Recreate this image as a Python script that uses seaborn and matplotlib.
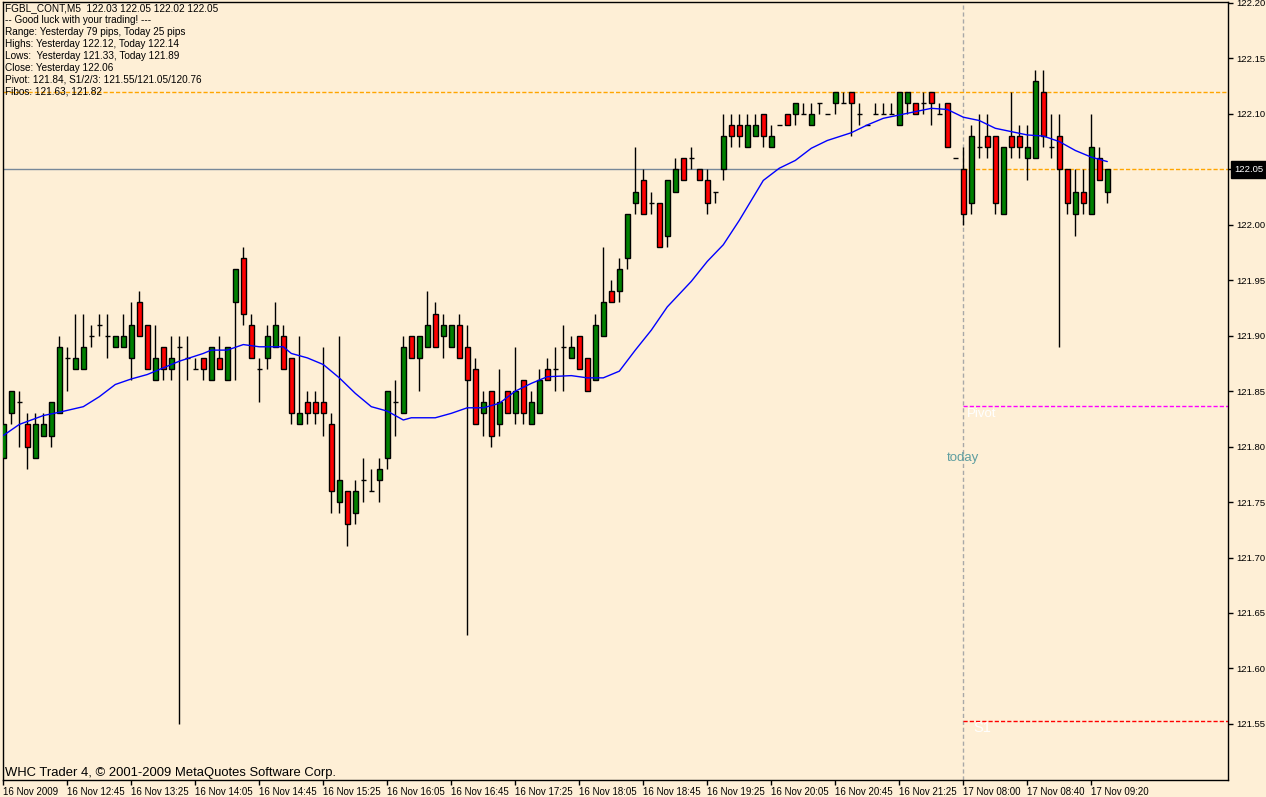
import numpy as np
import pandas as pd
import matplotlib
matplotlib.use("Agg")
import matplotlib.pyplot as plt
import matplotlib.transforms as mtrans
import seaborn as sns

# ==================================================
# data (FGBL_CONT, M5)
# ==================================================
opens = [121.79, 121.83, 121.84, 121.82, 121.79, 121.81, 121.81, 121.83, 121.88, 121.87,
         121.87, 121.90, 121.91, 121.90, 121.89, 121.89, 121.88, 121.93, 121.91, 121.86,
         121.89, 121.87, 121.89, 121.88, 121.87, 121.88, 121.86, 121.88, 121.86, 121.93,
         121.97, 121.91, 121.87, 121.88, 121.89, 121.90, 121.88, 121.82, 121.84, 121.84,
         121.84, 121.82, 121.75, 121.76, 121.74, 121.77, 121.76, 121.77, 121.79, 121.84,
         121.83, 121.90, 121.88, 121.89, 121.92, 121.90, 121.89, 121.91, 121.89, 121.87,
         121.83, 121.85, 121.82, 121.85, 121.83, 121.86, 121.82, 121.83, 121.87, 121.87,
         121.89, 121.88, 121.90, 121.88, 121.86, 121.90, 121.94, 121.94, 121.97, 122.02,
         122.04, 122.02, 122.02, 121.99, 122.03, 122.06, 122.06, 122.05, 122.04, 122.03,
         122.05, 122.09, 122.09, 122.07, 122.08, 122.10, 122.07, 122.09, 122.10, 122.10,
         122.10, 122.09, 122.11, 122.10, 122.11, 122.11, 122.12, 122.10, 122.09, 122.10,
         122.10, 122.10, 122.09, 122.11, 122.11, 122.11, 122.12, 122.10, 122.11, 122.06,
         122.05, 122.02, 122.07, 122.08, 122.08, 122.01, 122.08, 122.08, 122.06, 122.06,
         122.12, 122.07, 122.08, 122.05, 122.01, 122.03, 122.01, 122.06, 122.03]
highs = [121.82, 121.85, 121.85, 121.83, 121.83, 121.83, 121.84, 121.90, 121.89, 121.92,
         121.92, 121.91, 121.92, 121.92, 121.90, 121.92, 121.93, 121.94, 121.91, 121.91,
         121.89, 121.90, 121.90, 121.90, 121.88, 121.88, 121.89, 121.90, 121.89, 121.96,
         121.98, 121.92, 121.88, 121.91, 121.93, 121.91, 121.88, 121.90, 121.85, 121.85,
         121.89, 121.83, 121.90, 121.76, 121.77, 121.79, 121.78, 121.79, 121.85, 121.86,
         121.90, 121.90, 121.90, 121.94, 121.93, 121.92, 121.91, 121.92, 121.91, 121.88,
         121.85, 121.85, 121.87, 121.85, 121.89, 121.86, 121.85, 121.87, 121.88, 121.89,
         121.91, 121.90, 121.90, 121.88, 121.92, 121.98, 121.95, 121.97, 122.01, 122.07,
         122.05, 122.03, 122.02, 122.04, 122.06, 122.06, 122.07, 122.05, 122.05, 122.03,
         122.10, 122.10, 122.10, 122.10, 122.10, 122.10, 122.09, 122.09, 122.10, 122.11,
         122.11, 122.11, 122.11, 122.10, 122.12, 122.12, 122.12, 122.11, 122.09, 122.11,
         122.11, 122.11, 122.12, 122.12, 122.11, 122.12, 122.12, 122.11, 122.11, 122.06,
         122.07, 122.09, 122.10, 122.10, 122.08, 122.07, 122.12, 122.09, 122.09, 122.14,
         122.14, 122.10, 122.10, 122.05, 122.05, 122.05, 122.10, 122.07, 122.05]
lows = [121.79, 121.82, 121.80, 121.78, 121.79, 121.81, 121.80, 121.83, 121.85, 121.87,
        121.87, 121.89, 121.90, 121.88, 121.89, 121.89, 121.86, 121.90, 121.87, 121.86,
        121.86, 121.86, 121.55, 121.86, 121.87, 121.86, 121.86, 121.87, 121.86, 121.86,
        121.91, 121.88, 121.84, 121.87, 121.89, 121.87, 121.82, 121.82, 121.82, 121.82,
        121.81, 121.74, 121.74, 121.71, 121.73, 121.75, 121.76, 121.75, 121.78, 121.81,
        121.83, 121.88, 121.85, 121.89, 121.89, 121.88, 121.89, 121.88, 121.63, 121.82,
        121.81, 121.80, 121.81, 121.83, 121.82, 121.82, 121.82, 121.83, 121.86, 121.85,
        121.85, 121.88, 121.87, 121.85, 121.86, 121.90, 121.93, 121.93, 121.96, 122.01,
        122.01, 122.01, 121.98, 121.98, 122.03, 122.04, 122.05, 122.04, 122.01, 122.02,
        122.04, 122.07, 122.07, 122.07, 122.08, 122.07, 122.07, 122.09, 122.09, 122.09,
        122.10, 122.09, 122.10, 122.10, 122.10, 122.11, 122.08, 122.09, 122.09, 122.10,
        122.10, 122.10, 122.09, 122.10, 122.10, 122.10, 122.09, 122.10, 122.07, 122.06,
        122.00, 122.01, 122.06, 122.06, 122.01, 122.01, 122.06, 122.06, 122.04, 122.06,
        122.07, 122.06, 121.89, 122.01, 121.99, 122.01, 122.01, 122.04, 122.02]
closes = [121.82, 121.85, 121.84, 121.80, 121.82, 121.82, 121.84, 121.89, 121.88, 121.88,
          121.89, 121.90, 121.91, 121.90, 121.90, 121.90, 121.91, 121.90, 121.87, 121.88,
          121.87, 121.88, 121.89, 121.88, 121.87, 121.87, 121.89, 121.87, 121.89, 121.96,
          121.92, 121.88, 121.87, 121.90, 121.91, 121.87, 121.83, 121.83, 121.83, 121.83,
          121.83, 121.76, 121.77, 121.73, 121.76, 121.77, 121.76, 121.78, 121.85, 121.84,
          121.89, 121.88, 121.90, 121.91, 121.89, 121.91, 121.91, 121.88, 121.86, 121.82,
          121.84, 121.81, 121.84, 121.83, 121.85, 121.83, 121.84, 121.86, 121.86, 121.87,
          121.89, 121.89, 121.87, 121.85, 121.91, 121.93, 121.93, 121.96, 122.01, 122.03,
          122.01, 122.02, 121.98, 122.04, 122.05, 122.04, 122.06, 122.04, 122.02, 122.03,
          122.08, 122.08, 122.08, 122.09, 122.09, 122.08, 122.08, 122.09, 122.09, 122.11,
          122.10, 122.10, 122.11, 122.10, 122.12, 122.11, 122.11, 122.10, 122.09, 122.10,
          122.10, 122.10, 122.12, 122.12, 122.10, 122.11, 122.11, 122.10, 122.07, 122.06,
          122.01, 122.08, 122.07, 122.07, 122.02, 122.07, 122.07, 122.07, 122.07, 122.13,
          122.08, 122.07, 122.05, 122.02, 122.03, 122.02, 122.07, 122.04, 122.05]

# moving average, read at sample bars
ma_idx = [0, 2, 5, 7, 10, 12, 14, 16, 18, 20, 22, 25, 26, 28, 30, 32, 35, 36, 38, 40,
          42, 44, 46, 48, 50, 51, 54, 56, 58, 60, 62, 64, 66, 68, 71, 73, 75, 77, 79, 81,
          83, 86, 88, 90, 92, 95, 97, 99, 101, 103, 106, 108, 110, 112, 114, 116, 118, 120,
          122, 124, 126, 128, 130, 132, 134, 136, 138]
ma_vals = [121.810, 121.820, 121.828, 121.831, 121.836, 121.845, 121.856, 121.861, 121.865,
           121.871, 121.877, 121.884, 121.887, 121.887, 121.892, 121.890, 121.890, 121.884,
           121.880, 121.874, 121.862, 121.848, 121.836, 121.832, 121.824, 121.826, 121.826,
           121.830, 121.835, 121.835, 121.839, 121.850, 121.857, 121.863, 121.864, 121.862,
           121.862, 121.868, 121.887, 121.905, 121.926, 121.949, 121.967, 121.982, 122.004,
           122.040, 122.051, 122.058, 122.069, 122.076, 122.083, 122.090, 122.096, 122.099,
           122.102, 122.105, 122.104, 122.097, 122.094, 122.087, 122.084, 122.081, 122.080,
           122.075, 122.067, 122.061, 122.057]

tick_bars = list(range(0, 137, 8))
tick_labels = ["16 Nov 2009", "16 Nov 12:45", "16 Nov 13:25", "16 Nov 14:05", "16 Nov 14:45",
               "16 Nov 15:25", "16 Nov 16:05", "16 Nov 16:45", "16 Nov 17:25", "16 Nov 18:05",
               "16 Nov 18:45", "16 Nov 19:25", "16 Nov 20:05", "16 Nov 20:45", "16 Nov 21:25",
               "17 Nov 08:00", "17 Nov 08:40", "17 Nov 09:20"]
price_ticks = [121.55, 121.60, 121.65, 121.70, 121.75, 121.80, 121.85, 121.90, 121.95,
               122.00, 122.05, 122.10, 122.15, 122.20]

info_lines = ["FGBL_CONT,M5  122.03 122.05 122.02 122.05",
              "-- Good luck with your trading! ---",
              "Range: Yesterday 79 pips, Today 25 pips",
              "Highs: Yesterday 122.12, Today 122.14",
              "Lows:  Yesterday 121.33, Today 121.89",
              "Close: Yesterday 122.06",
              "Pivot: 121.84, S1/2/3: 121.55/121.05/120.76",
              "Fibos: 121.63, 121.82"]

today_bar = 120
last_price = 122.05
yest_high = 122.12
pivot = 121.837
s1 = 121.553

df = pd.DataFrame({"open": opens, "high": highs, "low": lows, "close": closes})
df["bar"] = np.arange(len(df))

# ==================================================
# figure
# ==================================================
BG = "#FEEFD6"
W, H = 1266, 797
sns.set_theme(style="ticks", rc={"axes.facecolor": BG, "figure.facecolor": BG})
plt.rcParams["font.family"] = ["Liberation Sans", "DejaVu Sans"]

fig = plt.figure(figsize=(W / 100, H / 100), dpi=100)
ax_l, ax_r, ax_t, ax_b = 2.5, 1228.3, 2.3, 780.0
ax = fig.add_axes([ax_l / W, 1 - ax_b / H, (ax_r - ax_l) / W, (ax_b - ax_t) / H])
ax.set_facecolor(BG)

xmin, xmax = -0.1, 153.125
ax.set_xlim(xmin, xmax)
ax.set_ylim(121.4994, 122.2006)

# candles
bw = 0.62
up = df[df.close > df.open]
dn = df[df.close < df.open]
dj = df[df.close == df.open]
ax.vlines(df.bar, df.low, df.high, color="black", lw=1.0, zorder=3)
ax.bar(up.bar, up.close - up.open, bottom=up.open, width=bw, color="#008000",
       edgecolor="black", lw=1.0, zorder=4)
ax.bar(dn.bar, dn.open - dn.close, bottom=dn.close, width=bw, color="#FF0000",
       edgecolor="black", lw=1.0, zorder=4)
ax.hlines(dj.open, dj.bar - bw / 2, dj.bar + bw / 2, color="black", lw=1.0, zorder=4)

# moving average
sns.lineplot(x=ma_idx, y=ma_vals, color="#0000FF", lw=1.0, ax=ax, zorder=5)

# level lines
dash = (0, (3, 1.5))
ax.hlines(yest_high, xmin, xmax, color="#FFA500", lw=1.0, linestyles=dash, zorder=2)
ax.hlines(last_price, xmin, today_bar, color="#778899", lw=1.0, zorder=2)
ax.hlines(last_price, today_bar, xmax, color="#FFA500", lw=1.0, linestyles=dash, zorder=2)
ax.hlines(pivot, today_bar, xmax, color="#FF00FF", lw=1.0, linestyles=dash, zorder=2)
ax.hlines(s1, today_bar, xmax, color="#FF0000", lw=1.0, linestyles=dash, zorder=2)
ax.axvline(today_bar, color="#A8A8A8", lw=1.0, ls=(0, (3, 2)), zorder=1)

ax.text(today_bar, 121.79, "today", color="#5F9EA0", fontsize=9.5, ha="center", va="center")
ax.text(today_bar + 0.5, pivot - 0.008, "Pivot", color="white", fontsize=9.5, ha="left", va="center")
ax.text(today_bar + 1.2, s1 - 0.007, "S1", color="white", fontsize=10.5, ha="left", va="center")

# axes styling
for s in ax.spines.values():
    s.set_color("black")
    s.set_linewidth(1.0)
ax.yaxis.tick_right()
ax.set_yticks(price_ticks)
ax.set_yticklabels([f"{p:.2f}" for p in price_ticks])
ax.set_xticks(tick_bars)
ax.set_xticklabels(tick_labels, ha="left")
ax.tick_params(axis="both", direction="out", length=3.5, width=1.0, color="black",
               labelcolor="black", pad=1.2)
ax.tick_params(axis="x", labelsize=7.0)
ax.tick_params(axis="y", labelsize=6.8, pad=2.5)
ax.set_xlabel("")
ax.set_ylabel("")
ax.grid(False)

# current price label
blend = mtrans.blended_transform_factory(ax.transAxes, ax.transData)
ax.text(1.0 + 6 / (ax_r - ax_l), last_price, f"{last_price:.2f}", transform=blend,
        color="white", fontsize=6.8, ha="left", va="center", zorder=10, clip_on=False,
        bbox=dict(boxstyle="square,pad=0.4", fc="black", ec="black"))

# info text top-left
for k, line in enumerate(info_lines):
    fig.text(5 / W, 1 - (8 + 12 * k) / H, line, fontsize=7.2, color="black",
             ha="left", va="center")

fig.text(5 / W, 1 - 773 / H, "WHC Trader 4, \u00a9 2001-2009 MetaQuotes Software Corp.",
         fontsize=9.35, color="black", ha="left", va="center")

fig.savefig("out.png", dpi=100, facecolor=BG)
